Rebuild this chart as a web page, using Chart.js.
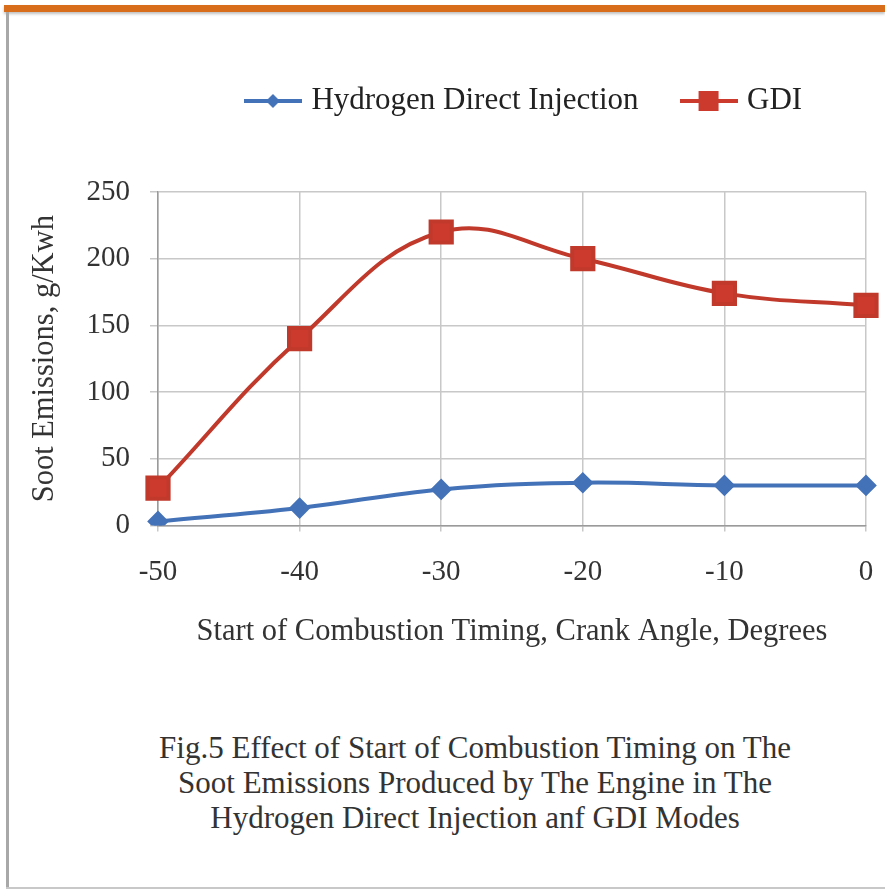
<!DOCTYPE html>
<html>
<head>
<meta charset="utf-8">
<script src="https://cdn.jsdelivr.net/npm/chart.js@4.4.1/dist/chart.umd.min.js"></script>
<style>
  html, body { margin: 0; padding: 0; background: #fff; }
  #frame { position: absolute; left: 0; top: 0; width: 885px; height: 891px; overflow: hidden; }
  #topbar { position: absolute; left: 4px; top: 5px; width: 881px; height: 7px; background: #d86e1c; box-shadow: 0 2px 3px rgba(0,0,0,0.25); }
  #leftbar { position: absolute; left: 6px; top: 12px; width: 3px; height: 877px; background: #a8a8a8; }
  #bottombar { position: absolute; left: 6px; top: 887px; width: 879px; height: 2px; background: #c8c8c8; }
  #wrap { position: absolute; left: 0; top: 0; width: 885px; height: 660px; }
  #caption { position: absolute; left: 0; top: 730px; width: 950px; text-align: center;
             font-family: "Liberation Serif", "Times New Roman", serif; font-size: 31px; line-height: 35px; color: #333; }
</style>
</head>
<body>
<div id="frame">
  <div id="topbar"></div>
  <div id="leftbar"></div>
  <div id="bottombar"></div>
  <div id="wrap"><canvas id="sootChart"></canvas></div>
  <div id="caption">Fig.5 Effect of Start of Combustion Timing on The<br>Soot Emissions Produced by The Engine in The<br>Hydrogen Direct Injection anf GDI Modes</div>
</div>
<script>
// chart values
const timing = ['-50', '-40', '-30', '-20', '-10', '0'];
const hydrogenDI = [3, 13, 27, 32, 30, 30];
const gdi = [28, 140, 220, 200, 174, 165];
const yTicks = [0, 50, 100, 150, 200, 250];

const serif = '"Liberation Serif", "Times New Roman", serif';
const blue = '#4472b8';
const red = '#c0392b';

// little line + marker images for the legend, like the Excel legend
function legendSymbol(color, shape) {
    const c = document.createElement('canvas');
    c.width = 58; c.height = 22;
    const g = c.getContext('2d');
    g.strokeStyle = color; g.lineWidth = 4;
    g.beginPath(); g.moveTo(0, 11); g.lineTo(58, 11); g.stroke();
    g.fillStyle = color;
    g.beginPath();
    if (shape === 'diamond') {
        g.moveTo(29, 4); g.lineTo(36, 11); g.lineTo(29, 18); g.lineTo(22, 11);
    } else {
        g.rect(19, 1, 20, 20);
    }
    g.closePath(); g.fill();
    return c;
}
const symbols = [legendSymbol(blue, 'diamond'), legendSymbol('#cc3a2e', 'square')];

// extra gap between legend and plot, and nudge legend a bit right
const legendGap = {
    id: 'legendGap',
    afterInit(chart) {
        const fit = chart.legend.fit;
        chart.legend.fit = function () {
            fit.call(this);
            this.height += 65.5;
        };
    },
    afterLayout(chart) {
        chart.legend.left += 14;
        chart.legend.right += 14;
    }
};

const ctx = document.getElementById('sootChart').getContext('2d');
const sootChart = new Chart(ctx, {
    type: 'line',
    data: {
        labels: timing,
        datasets: [{
            label: 'Hydrogen Direct Injection',
            data: hydrogenDI,
            borderColor: blue,
            backgroundColor: blue,
            borderWidth: 4,
            pointStyle: 'rectRot',
            pointRadius: 8,
            tension: 0.4
        }, {
            label: 'GDI',
            data: gdi,
            borderColor: red,
            backgroundColor: '#cc3a2e',
            borderWidth: 4,
            pointStyle: 'rect',
            pointRadius: 15,
            tension: 0.4
        }]
    },
    options: {
        responsive: true,
        maintainAspectRatio: false,
        animation: false,
        layout: { padding: { left: 12, right: 16, top: 38.5, bottom: 10 } },
        plugins: {
            tooltip: { enabled: false },
            legend: {
                position: 'top',
                fullSize: false,
                labels: {
                    usePointStyle: true,
                    pointStyleWidth: 46,
                    padding: 47,
                    color: '#222',
                    font: { family: serif, size: 31 },
                    generateLabels(chart) {
                        return chart.data.datasets.map((ds, i) => ({
                            text: ds.label,
                            fillStyle: ds.backgroundColor,
                            strokeStyle: ds.borderColor,
                            pointStyle: symbols[i],
                            datasetIndex: i,
                            fontColor: '#222'
                        }));
                    }
                }
            }
        },
        scales: {
            x: {
                offset: false,
                afterFit(scale) { scale.paddingRight = 0; },
                grid: { color: '#c8c8c8', lineWidth: 1.5, tickLength: 6 },
                border: { color: '#9a9a9a', width: 1.5 },
                ticks: { color: '#333', font: { family: serif, size: 29 }, padding: 23.6, maxRotation: 0 },
                title: {
                    display: true,
                    text: 'Start of Combustion Timing, Crank Angle, Degrees',
                    color: '#333',
                    font: { family: serif, size: 30.5 },
                    padding: { top: 0, bottom: 0 }
                }
            },
            y: {
                min: 0,
                max: 250,
                afterBuildTicks(scale) { scale.ticks = yTicks.map(v => ({ value: v })); },
                afterFit(scale) { scale.width = 158 - 12; },
                grid: { color: '#c8c8c8', lineWidth: 1.5, tickLength: 8 },
                border: { color: '#9a9a9a', width: 1.5 },
                ticks: { color: '#333', font: { family: serif, size: 29 }, padding: 20 },
                title: {
                    display: true,
                    text: 'Soot Emissions, g/Kwh',
                    color: '#333',
                    font: { family: serif, size: 30.5 },
                    padding: { top: 15, bottom: 0 }
                }
            }
        }
    },
    plugins: [legendGap]
});
</script>
</body>
</html>
